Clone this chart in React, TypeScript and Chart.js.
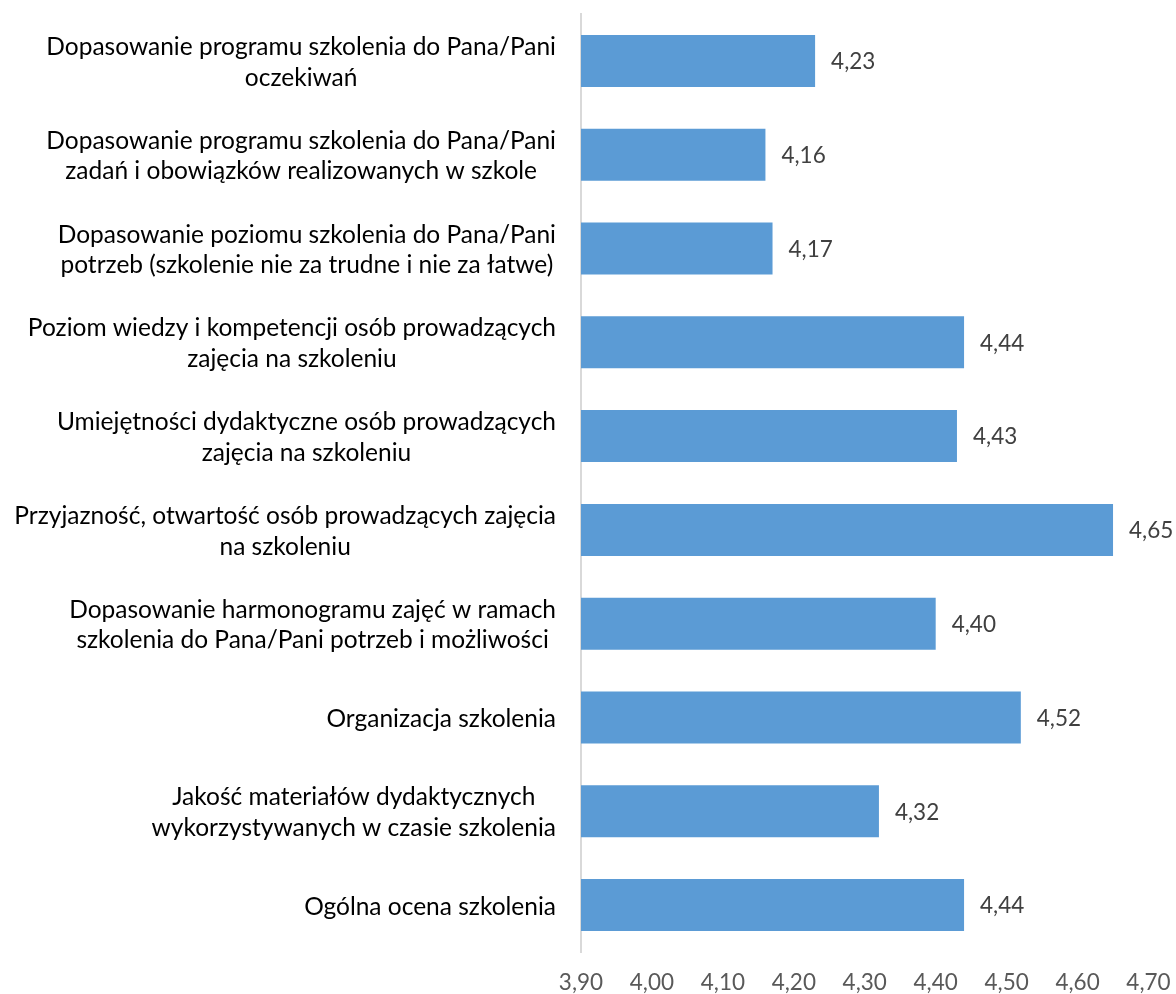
import React, { useEffect, useRef } from "react";
import { Chart, registerables } from "chart.js";

Chart.register(...registerables);

const categories: string[][] = [
  ["Dopasowanie programu szkolenia do Pana/Pani", "oczekiwań"],
  ["Dopasowanie programu szkolenia do Pana/Pani", "zadań i obowiązków realizowanych w szkole"],
  ["Dopasowanie poziomu szkolenia do Pana/Pani", "potrzeb (szkolenie nie za trudne i nie za łatwe)"],
  ["Poziom wiedzy i kompetencji osób prowadzących", "zajęcia na szkoleniu"],
  ["Umiejętności dydaktyczne osób prowadzących", "zajęcia na szkoleniu"],
  ["Przyjazność, otwartość osób prowadzących zajęcia", "na szkoleniu"],
  ["Dopasowanie harmonogramu zajęć w ramach", "szkolenia do Pana/Pani potrzeb i możliwości"],
  ["Organizacja szkolenia"],
  ["Jakość materiałów dydaktycznych", "wykorzystywanych w czasie szkolenia"],
  ["Ogólna ocena szkolenia"],
];

const values: number[] = [4.23, 4.16, 4.17, 4.44, 4.43, 4.65, 4.4, 4.52, 4.32, 4.44];

const axisMin = 3.9;
const axisMax = 4.7;
const axisStep = 0.1;

const FONT = "Lato, 'Open Sans', sans-serif";
const fmt = (v: number) => v.toFixed(2).replace(".", ",");

const categoryLabelsPlugin = {
  id: "categoryLabels",
  afterDraw(chart: any) {
    const ctx = chart.ctx;
    const yScale = chart.scales.y;
    const right = chart.chartArea.left - 25;
    const lh = 30.7;
    ctx.save();
    ctx.font = `24.5px ${FONT}`;
    ctx.fillStyle = "#000000";
    ctx.textAlign = "center";
    ctx.textBaseline = "middle";
    categories.forEach((lines, i) => {
      const y = yScale.getPixelForValue(i) + 1.5;
      const maxW = Math.max(...lines.map((l) => ctx.measureText(l).width));
      const cx = right - maxW / 2;
      lines.forEach((line, k) => {
        ctx.fillText(line, cx, y + (k - (lines.length - 1) / 2) * lh);
      });
    });
    ctx.restore();
  },
};

const valueLabelsPlugin = {
  id: "valueLabels",
  afterDatasetsDraw(chart: any) {
    const ctx = chart.ctx;
    const meta = chart.getDatasetMeta(0);
    ctx.save();
    ctx.font = `22.5px ${FONT}`;
    ctx.fillStyle = "#404040";
    ctx.textAlign = "left";
    ctx.textBaseline = "middle";
    meta.data.forEach((el: any, i: number) => {
      ctx.fillText(fmt(values[i]), el.x + 16, el.y + 1);
    });
    ctx.restore();
  },
};

export default function App() {
  const ref = useRef<HTMLCanvasElement | null>(null);
  useEffect(() => {
    if (!ref.current) return;
    const chart = new Chart(ref.current, {
      type: "bar",
      data: {
        labels: categories.map((c) => c.join(" ")),
        datasets: [
          {
            data: values,
            backgroundColor: "#5B9BD5",
            borderWidth: 0,
            categoryPercentage: 1,
            barPercentage: 0.554,
          },
        ],
      },
      options: {
        indexAxis: "y",
        animation: false,
        responsive: false,
        layout: { padding: { top: 14, right: 27.5, left: 0, bottom: 0 } },
        plugins: { legend: { display: false }, tooltip: { enabled: false } },
        scales: {
          x: {
            min: axisMin,
            max: axisMax,
            grid: { display: false, drawTicks: false },
            border: { display: false },
            ticks: {
              stepSize: axisStep,
              padding: 17,
              color: "#595959",
              font: { family: FONT, size: 22.5 },
              callback: (v: any) => fmt(Number(v)),
            },
            afterFit: (s: any) => {
              s.height = 42;
              s.paddingLeft = 0;
              s.paddingRight = 0;
              s.paddingTop = 0;
              s.paddingBottom = 0;
            },
          },
          y: {
            grid: { display: false, drawTicks: false },
            border: { display: true, color: "#d9d9d9", width: 2 },
            ticks: { display: false },
            afterFit: (s: any) => {
              s.width = 581;
              s.paddingLeft = 0;
              s.paddingRight = 0;
              s.paddingTop = 0;
              s.paddingBottom = 0;
            },
          },
        },
      },
      plugins: [categoryLabelsPlugin, valueLabelsPlugin],
    });
    return () => chart.destroy();
  }, []);
  return (
    <canvas
      ref={ref}
      width={1176}
      height={994}
      style={{ position: "absolute", left: 0, top: 0, display: "block", background: "#fff" }}
    />
  );
}
